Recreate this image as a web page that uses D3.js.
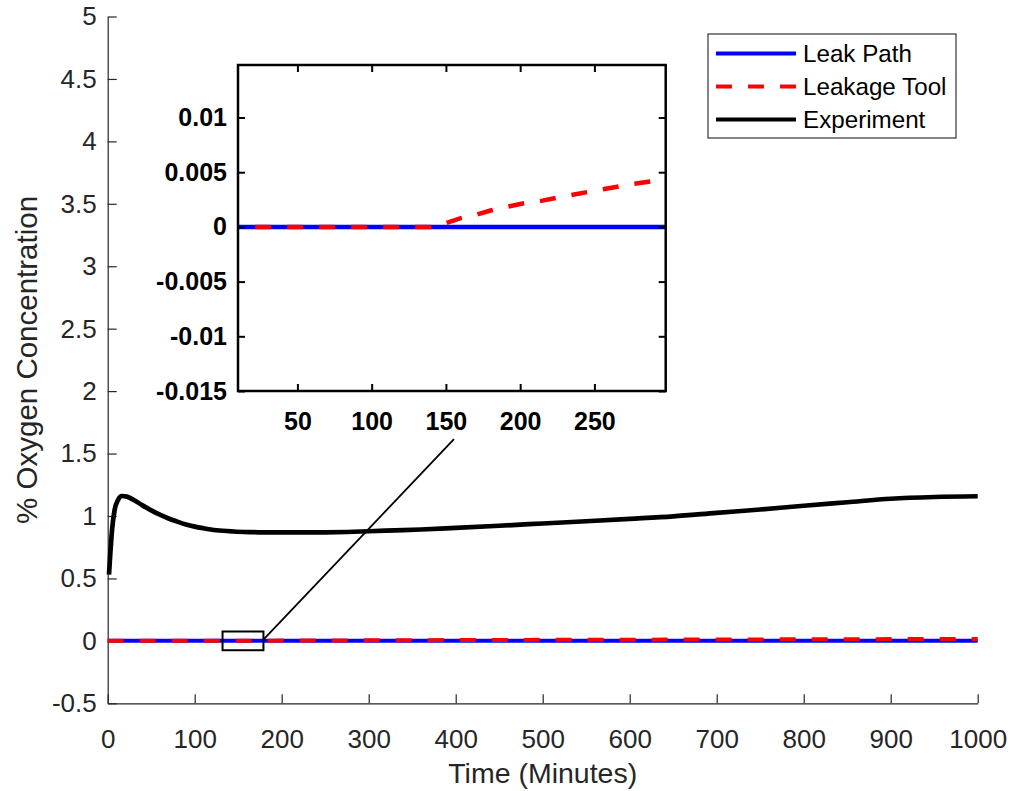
<!DOCTYPE html>
<html>
<head>
<meta charset="utf-8">
<script src="https://cdn.jsdelivr.net/npm/d3@7"></script>
<style>
  body { margin: 0; background: #fff; }
  text { font-family: "Liberation Sans", Arial, Helvetica, sans-serif; }
</style>
</head>
<body>
<div id="chart"></div>
<script>
// experiment (measured) curve
const expTime = [1.5, 3, 5, 8, 12, 16, 22, 30, 40, 50, 60, 70, 80, 90, 100, 110, 125, 145, 165, 185, 205, 225, 250, 275, 300, 330, 360, 400, 450, 500, 550, 600, 650, 700, 750, 800, 850, 900, 950, 1000];
const expO2 = [0.53, 0.7, 0.89, 1.05, 1.13, 1.16, 1.155, 1.128, 1.085, 1.045, 1.01, 0.98, 0.955, 0.932, 0.915, 0.902, 0.886, 0.876, 0.871, 0.868, 0.868, 0.868, 0.869, 0.872, 0.878, 0.885, 0.892, 0.905, 0.922, 0.94, 0.958, 0.977, 0.997, 1.025, 1.052, 1.082, 1.11, 1.138, 1.152, 1.158];

// leak path model (flat zero)
const pathTime = [0, 1000];
const pathO2 = [0, 0];

// leakage tool model
const toolTime = [0, 140, 150, 160, 170, 180, 190, 200, 215, 230, 250, 275, 300, 400, 500, 600, 700, 800, 900, 1000];
const toolO2 = [0, 0, 0.00035, 0.0008, 0.0011, 0.0015, 0.0018, 0.0021, 0.0024, 0.0028, 0.0033, 0.0039, 0.0044, 0.0063, 0.008, 0.0095, 0.011, 0.0125, 0.014, 0.0155];

const xTicks = [0, 100, 200, 300, 400, 500, 600, 700, 800, 900, 1000];
const yTicks = [-0.5, 0, 0.5, 1, 1.5, 2, 2.5, 3, 3.5, 4, 4.5, 5];
const insetXTicks = [50, 100, 150, 200, 250];
const insetYTicks = [-0.015, -0.01, -0.005, 0, 0.005, 0.01];

// zoom box on main axes and where its connector ends
const zoomBoxT = [132, 179];
const zoomBoxV = [-0.075, 0.075];
const connectorT = [179, 398];
const connectorV = [0.01, 1.615];

const legendNames = ["Leak Path", "Leakage Tool", "Experiment"];
const legendColors = ["#0000ff", "#ff0000", "#000000"];
const legendDash = [null, "16,16", null];

const width = 1011, height = 791;
const axisColor = "#262626";
const fmt = d => String(d);

const svg = d3.select("#chart").append("svg")
  .attr("width", width)
  .attr("height", height);

let x = d3.scaleLinear().domain([0, 1000]).range([107.7, 977.7]);
let y = d3.scaleLinear().domain([-0.5, 5]).range([703.3, 16.5]);

const zip = (a, b) => a.map((d, i) => [d, b[i]]);

// main axes
let gx = svg.append("g")
  .attr("transform", "translate(0," + y(-0.5) + ")")
  .call(d3.axisBottom(x).tickValues(xTicks).tickFormat(fmt).tickSizeInner(-9).tickSizeOuter(0).tickPadding(26));
let gy = svg.append("g")
  .attr("transform", "translate(" + x(0) + ",0)")
  .call(d3.axisLeft(y).tickValues(yTicks).tickFormat(fmt).tickSizeInner(-9).tickSizeOuter(0).tickPadding(11));
[gx, gy].forEach(g => {
  g.select(".domain").attr("stroke", axisColor).attr("stroke-width", 1.2);
  g.selectAll(".tick line").attr("stroke", axisColor).attr("stroke-width", 1.2);
  g.selectAll(".tick text").attr("fill", axisColor).style("font-size", "26px").attr("font-family", null);
});

svg.append("text")
  .attr("x", (x(0) + x(1000)) / 2)
  .attr("y", 783)
  .attr("text-anchor", "middle")
  .attr("fill", axisColor)
  .style("font-size", "28.5px")
  .text("Time (Minutes)");

svg.append("text")
  .attr("transform", "translate(37," + ((y(-0.5) + y(5)) / 2) + ") rotate(-90)")
  .attr("text-anchor", "middle")
  .attr("fill", axisColor)
  .style("font-size", "29.5px")
  .text("% Oxygen Concentration");

// main series
let line = d3.line().x(d => x(d[0])).y(d => y(d[1]));

svg.append("path")
  .datum(zip(expTime, expO2))
  .attr("fill", "none")
  .attr("stroke", "#000")
  .attr("stroke-width", 4.7)
  .attr("stroke-linejoin", "round")
  .attr("d", line.curve(d3.curveMonotoneX));

line = d3.line().x(d => x(d[0])).y(d => y(d[1]));
svg.append("path")
  .datum(zip(pathTime, pathO2))
  .attr("fill", "none")
  .attr("stroke", "#0000ff")
  .attr("stroke-width", 4)
  .attr("d", line);
svg.append("path")
  .datum(zip(toolTime, toolO2))
  .attr("fill", "none")
  .attr("stroke", "#ff0000")
  .attr("stroke-width", 4)
  .attr("stroke-dasharray", "16,16")
  .attr("d", line);

// zoom rectangle
svg.append("rect")
  .attr("x", x(zoomBoxT[0]))
  .attr("y", y(zoomBoxV[1]))
  .attr("width", x(zoomBoxT[1]) - x(zoomBoxT[0]))
  .attr("height", y(zoomBoxV[0]) - y(zoomBoxV[1]))
  .attr("fill", "none")
  .attr("stroke", "#000")
  .attr("stroke-width", 2);

// inset
let xi = d3.scaleLinear().domain([10, 298]).range([238, 665.7]);
let yi = d3.scaleLinear().domain([-0.015, 0.0148]).range([391, 65]);

let inset = svg.append("g").attr("class", "inset");
inset.append("rect")
  .attr("x", xi.range()[0]).attr("y", yi.range()[1])
  .attr("width", xi.range()[1] - xi.range()[0])
  .attr("height", yi.range()[0] - yi.range()[1])
  .attr("fill", "#fff");

svg.append("clipPath").attr("id", "insetClip")
  .append("rect")
  .attr("x", xi.range()[0]).attr("y", yi.range()[1])
  .attr("width", xi.range()[1] - xi.range()[0])
  .attr("height", yi.range()[0] - yi.range()[1]);

let lineI = d3.line().x(d => xi(d[0])).y(d => yi(d[1]));
let insetLines = inset.append("g").attr("clip-path", "url(#insetClip)");
insetLines.append("path")
  .datum(zip(pathTime, pathO2))
  .attr("fill", "none")
  .attr("stroke", "#0000ff")
  .attr("stroke-width", 4.5)
  .attr("d", lineI);
insetLines.append("path")
  .datum(zip(toolTime, toolO2).filter(d => d[0] <= 400))
  .attr("fill", "none")
  .attr("stroke", "#ff0000")
  .attr("stroke-width", 4.5)
  .attr("stroke-dasharray", "16,16")
  .attr("d", lineI);

let ix = inset.append("g")
  .attr("transform", "translate(0," + yi.range()[0] + ")")
  .call(d3.axisBottom(xi).tickValues(insetXTicks).tickFormat(fmt).tickSizeInner(-7).tickSizeOuter(0).tickPadding(21));
let iy = inset.append("g")
  .attr("transform", "translate(" + xi.range()[0] + ",0)")
  .call(d3.axisLeft(yi).tickValues(insetYTicks).tickFormat(fmt).tickSizeInner(-7).tickSizeOuter(0).tickPadding(11));
let ixTop = inset.append("g")
  .attr("transform", "translate(0," + yi.range()[1] + ")")
  .call(d3.axisTop(xi).tickValues(insetXTicks).tickFormat("").tickSizeInner(-7).tickSizeOuter(0));
let iyRight = inset.append("g")
  .attr("transform", "translate(" + xi.range()[1] + ",0)")
  .call(d3.axisRight(yi).tickValues(insetYTicks).tickFormat("").tickSizeInner(-7).tickSizeOuter(0));
[ix, iy, ixTop, iyRight].forEach(g => {
  g.select(".domain").remove();
  g.selectAll(".tick line").attr("stroke", "#000").attr("stroke-width", 2);
  g.selectAll(".tick text").attr("fill", "#000").style("font-size", "25px").style("font-weight", "bold").attr("font-family", null);
});
inset.append("rect")
  .attr("x", xi.range()[0]).attr("y", yi.range()[1])
  .attr("width", xi.range()[1] - xi.range()[0])
  .attr("height", yi.range()[0] - yi.range()[1])
  .attr("fill", "none")
  .attr("stroke", "#000")
  .attr("stroke-width", 2.5);

// connector from zoom box to inset
svg.append("line")
  .attr("x1", x(connectorT[0])).attr("y1", y(connectorV[0]))
  .attr("x2", x(connectorT[1])).attr("y2", y(connectorV[1]))
  .attr("stroke", "#000")
  .attr("stroke-width", 1.8);

// legend
let legend = svg.append("g").attr("transform", "translate(708,34)");
legend.append("rect")
  .attr("width", 248).attr("height", 104)
  .attr("fill", "#fff")
  .attr("stroke", "#333")
  .attr("stroke-width", 1.2);
let items = legend.selectAll("g.item")
  .data(legendNames)
  .enter()
  .append("g")
  .attr("class", "item")
  .attr("transform", (d, i) => "translate(0," + (19.5 + i * 33) + ")");
items.append("line")
  .attr("x1", 8).attr("x2", 88)
  .attr("stroke", (d, i) => legendColors[i])
  .attr("stroke-width", 4)
  .attr("stroke-dasharray", (d, i) => legendDash[i]);
items.append("text")
  .attr("x", 95)
  .attr("dy", "0.35em")
  .attr("fill", "#000")
  .style("font-size", "24.2px")
  .text(d => d);
</script>
</body>
</html>
